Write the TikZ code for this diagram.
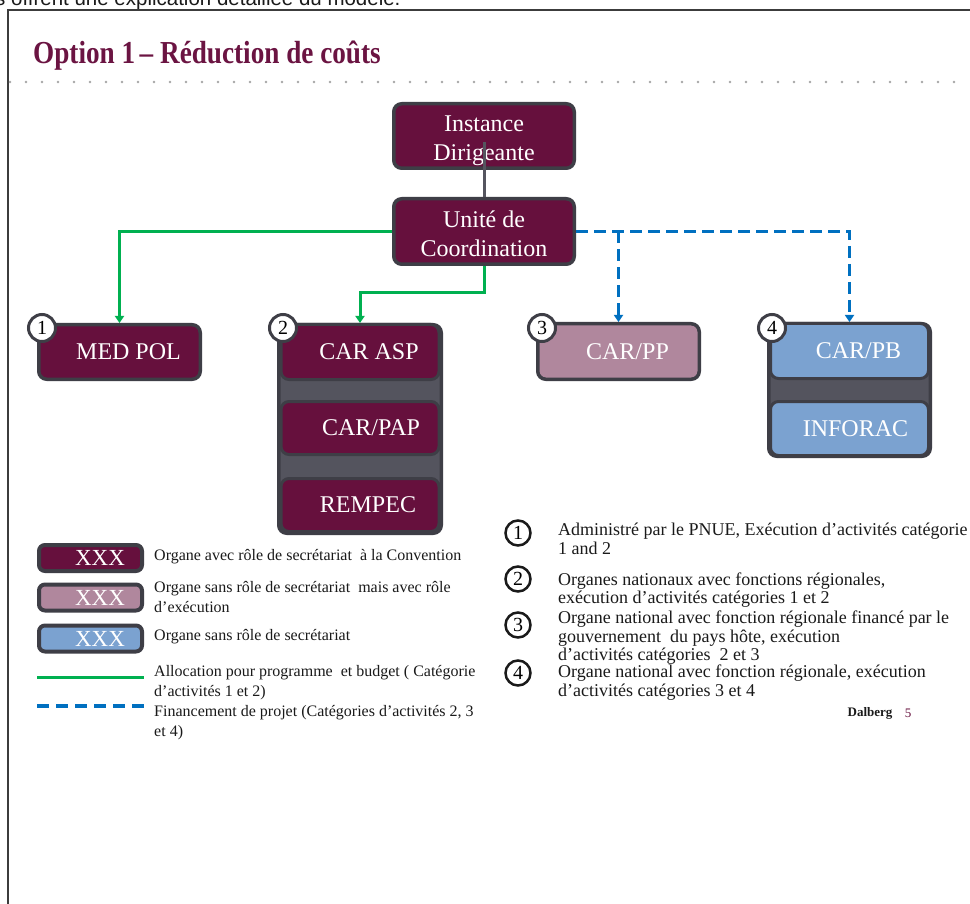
\documentclass[tikz,border=0pt]{standalone}
\usepackage{fontspec}
\setmainfont{Liberation Serif}
\newfontfamily\arialfont{Liberation Sans}
\usetikzlibrary{arrows.meta,calc}
\definecolor{cMaroon}{HTML}{66103D}
\definecolor{cTitle}{HTML}{6B1442}
\definecolor{cBorder}{HTML}{3E3E46}
\definecolor{cGroup}{HTML}{54545E}
\definecolor{cMauve}{HTML}{B0879D}
\definecolor{cLBlue}{HTML}{7BA2D0}
\definecolor{cGreen}{HTML}{00B050}
\definecolor{cDash}{HTML}{0070C0}
\definecolor{cLink}{HTML}{55555F}
\definecolor{cDots}{HTML}{A6A6A6}
\definecolor{cFrame}{HTML}{3C3C3C}
\definecolor{cText}{HTML}{1A1A1A}
\begin{document}
\begin{tikzpicture}[x=1pt,y=-1pt,
  orgbase/.style={rounded corners=8pt, draw=cBorder, line width=3.5pt, text=white,
    font=\fontsize{24}{29}\selectfont, inner sep=0pt, align=center},
  maroonbox/.style={orgbase, fill=cMaroon},
  mauvebox/.style={orgbase, fill=cMauve},
  bluebox/.style={orgbase, fill=cLBlue},
  innerbox/.style={line width=3pt, minimum width=158pt},
  groupbox/.style={rounded corners=8pt, draw=cBorder, fill=cGroup, line width=3.5pt, inner sep=0pt},
  numcirc/.style={circle, fill=white, draw=cBorder, line width=3pt, minimum size=27pt,
    inner sep=0pt, font=\fontsize{20}{20}\selectfont},
  notecirc/.style={circle, fill=white, draw=cText, line width=2.5pt, minimum size=25pt,
    inner sep=0pt, font=\fontsize{20}{20}\selectfont},
  legbox/.style={rounded corners=6pt, draw=cBorder, line width=4pt, text=white,
    minimum width=103pt, minimum height=26pt, inner sep=0pt, font=\fontsize{23}{23}\selectfont},
  legtext/.style={anchor=west, inner sep=0pt, align=left, text=cText, font=\fontsize{16}{20}\selectfont},
  notetext/.style={anchor=west, inner sep=0pt, align=left, text=cText, font=\fontsize{18}{18.5}\selectfont},
  greenline/.style={draw=cGreen, line width=3pt},
  blueline/.style={draw=cDash, line width=3.5pt, dash pattern=on 12pt off 6pt},
  tiparrow/.style={-{Triangle[length=7pt,width=9pt]}}
]
\useasboundingbox (0,0) rectangle (970,904);
\fill[white] (0,0) rectangle (970,904);

% top cut text and frame
\node[anchor=base west, inner sep=0pt, text=cText, font=\arialfont\fontsize{20.5}{24}\selectfont] (toptext) at (-5,5.5) {s offrent une explication détaillée du modèle.};
\draw[cFrame, line width=2pt] (8,904) -- (8,10) -- (971,10);
\draw[cDots, line width=2.6pt, line cap=round, dash pattern=on 0pt off 16pt] (10,82) -- (970,82);

% title
\node[anchor=base west, inner sep=0pt, text=cTitle, font=\bfseries\fontsize{32}{36}\selectfont] (title) at (33,64) {\scalebox{0.85}[1]{Option 1\,– Réduction de coûts}};

% top boxes
\node[maroonbox, minimum width=180.5pt, minimum height=64.5pt] (inst) at (484,136) {\rule{0pt}{26pt}Instance\\Dirigeante};
\node[maroonbox, minimum width=180.5pt, minimum height=65.5pt] (unite) at (484,231.5) {\rule{0pt}{22pt}Unité de\\Coordination};

% group 1
\node[maroonbox, minimum width=161.5pt, minimum height=54.5pt] (medpol) at (119.5,352) {\hspace*{18pt}MED POL};

% group 2
\node[groupbox, minimum width=162.5pt, minimum height=208.5pt] (grp2) at (360,429) {};
\node[maroonbox, innerbox, minimum height=55pt] (carasp) at (360,352) {\hspace*{18pt}CAR ASP};
\node[maroonbox, innerbox, minimum height=53pt] (carpap) at (360,428) {\hspace*{22pt}CAR/PAP};
\node[maroonbox, innerbox, minimum height=53pt] (rempec) at (360,505) {\hspace*{16pt}REMPEC};

% group 3
\node[mauvebox, minimum width=161.5pt, minimum height=55.5pt] (carpp) at (618.5,351.5) {\hspace*{18pt}CAR/PP};

% group 4
\node[groupbox, minimum width=161.5pt, minimum height=132.5pt] (grp4) at (849.5,390) {};
\node[bluebox, innerbox, minimum height=55pt] (carpb) at (849.5,351) {\hspace*{18pt}CAR/PB};
\node[bluebox, innerbox, minimum height=54pt] (inforac) at (849.5,428.5) {\hspace*{12pt}INFORAC};

% number circles
\node[numcirc] (n1) at ($(medpol.north west)+(5,5)$) {1};
\node[numcirc] (n2) at ($(grp2.north west)+(6,5)$) {2};
\node[numcirc] (n3) at ($(carpp.north west)+(6,6)$) {3};
\node[numcirc] (n4) at ($(grp4.north west)+(5,6)$) {4};

% connectors
\draw[cLink, line width=3pt] ([yshift=-6pt]inst.center) -- (unite.north);
\draw[greenline, tiparrow] (unite.west) -| (medpol.north);
\draw[greenline, tiparrow] (unite.south) -- ++(0,27) -| (carasp.north);
\draw[blueline, tiparrow] (unite.east) -| (grp4.north);
\coordinate (branch) at (carpp.north |- unite.east);
\draw[blueline, tiparrow] (branch) -- (carpp.north);

% legend
\node[legbox, fill=cMaroon] (lg1) at (90.5,558) {\hspace*{19pt}XXX};
\node[legbox, fill=cMauve] (lg2) at (90.5,597.5) {\hspace*{19pt}XXX};
\node[legbox, fill=cLBlue] (lg3) at (90.5,638.5) {\hspace*{19pt}XXX};
\node[legtext] (lt1) at (154,557) {Organe avec rôle de secrétariat\ \ à la Convention};
\node[legtext] (lt2) at (154,597) {Organe sans rôle de secrétariat\ \ mais avec rôle\\d’exécution};
\node[legtext] (lt3) at (154,637) {Organe sans rôle de secrétariat};
\coordinate (lgA1) at (37,677);
\coordinate (lgA2) at (144,677);
\draw[greenline] (lgA1) -- (lgA2);
\node[legtext] (lt4) at (154,683) {Allocation pour programme\ \ et budget ( Catégorie\\d’activités 1 et 2)};
\coordinate (lgB1) at (37,706);
\coordinate (lgB2) at (145,706);
\draw[blueline, dash pattern=on 12pt off 7pt] (lgB1) -- (lgB2);
\node[legtext] (lt5) at (154,722.5) {Financement de projet (Catégories d’activités 2, 3\\et 4)};

% notes
\node[notecirc] (c1) at (518,533) {1};
\node[notecirc] (c2) at (518,579) {2};
\node[notecirc] (c3) at (518,625) {3};
\node[notecirc] (c4) at (518,673) {4};
\node[notetext] (t1) at (558,539) {Administré par le PNUE, Exécution d’activités catégorie\\1 and 2};
\node[notetext] (t2) at (558,590) {Organes nationaux avec fonctions régionales,\\exécution d’activités catégories 1 et 2};
\node[notetext] (t3) at (558,638) {Organe national avec fonction régionale financé par le\\gouvernement\ \ du pays hôte, exécution\\d’activités catégories\ \ 2 et 3};
\node[notetext] (t4) at (558,682.5) {Organe national avec fonction régionale, exécution\\d’activités catégories 3 et 4};

% footer
\node[inner sep=0pt, text=cText, font=\bfseries\fontsize{13}{13}\selectfont] (dalberg) at (870,713) {Dalberg};
\node[inner sep=0pt, text=cMaroon, font=\fontsize{13}{13}\selectfont] (pagenum) at (908,713) {5};
\end{tikzpicture}
\end{document}
